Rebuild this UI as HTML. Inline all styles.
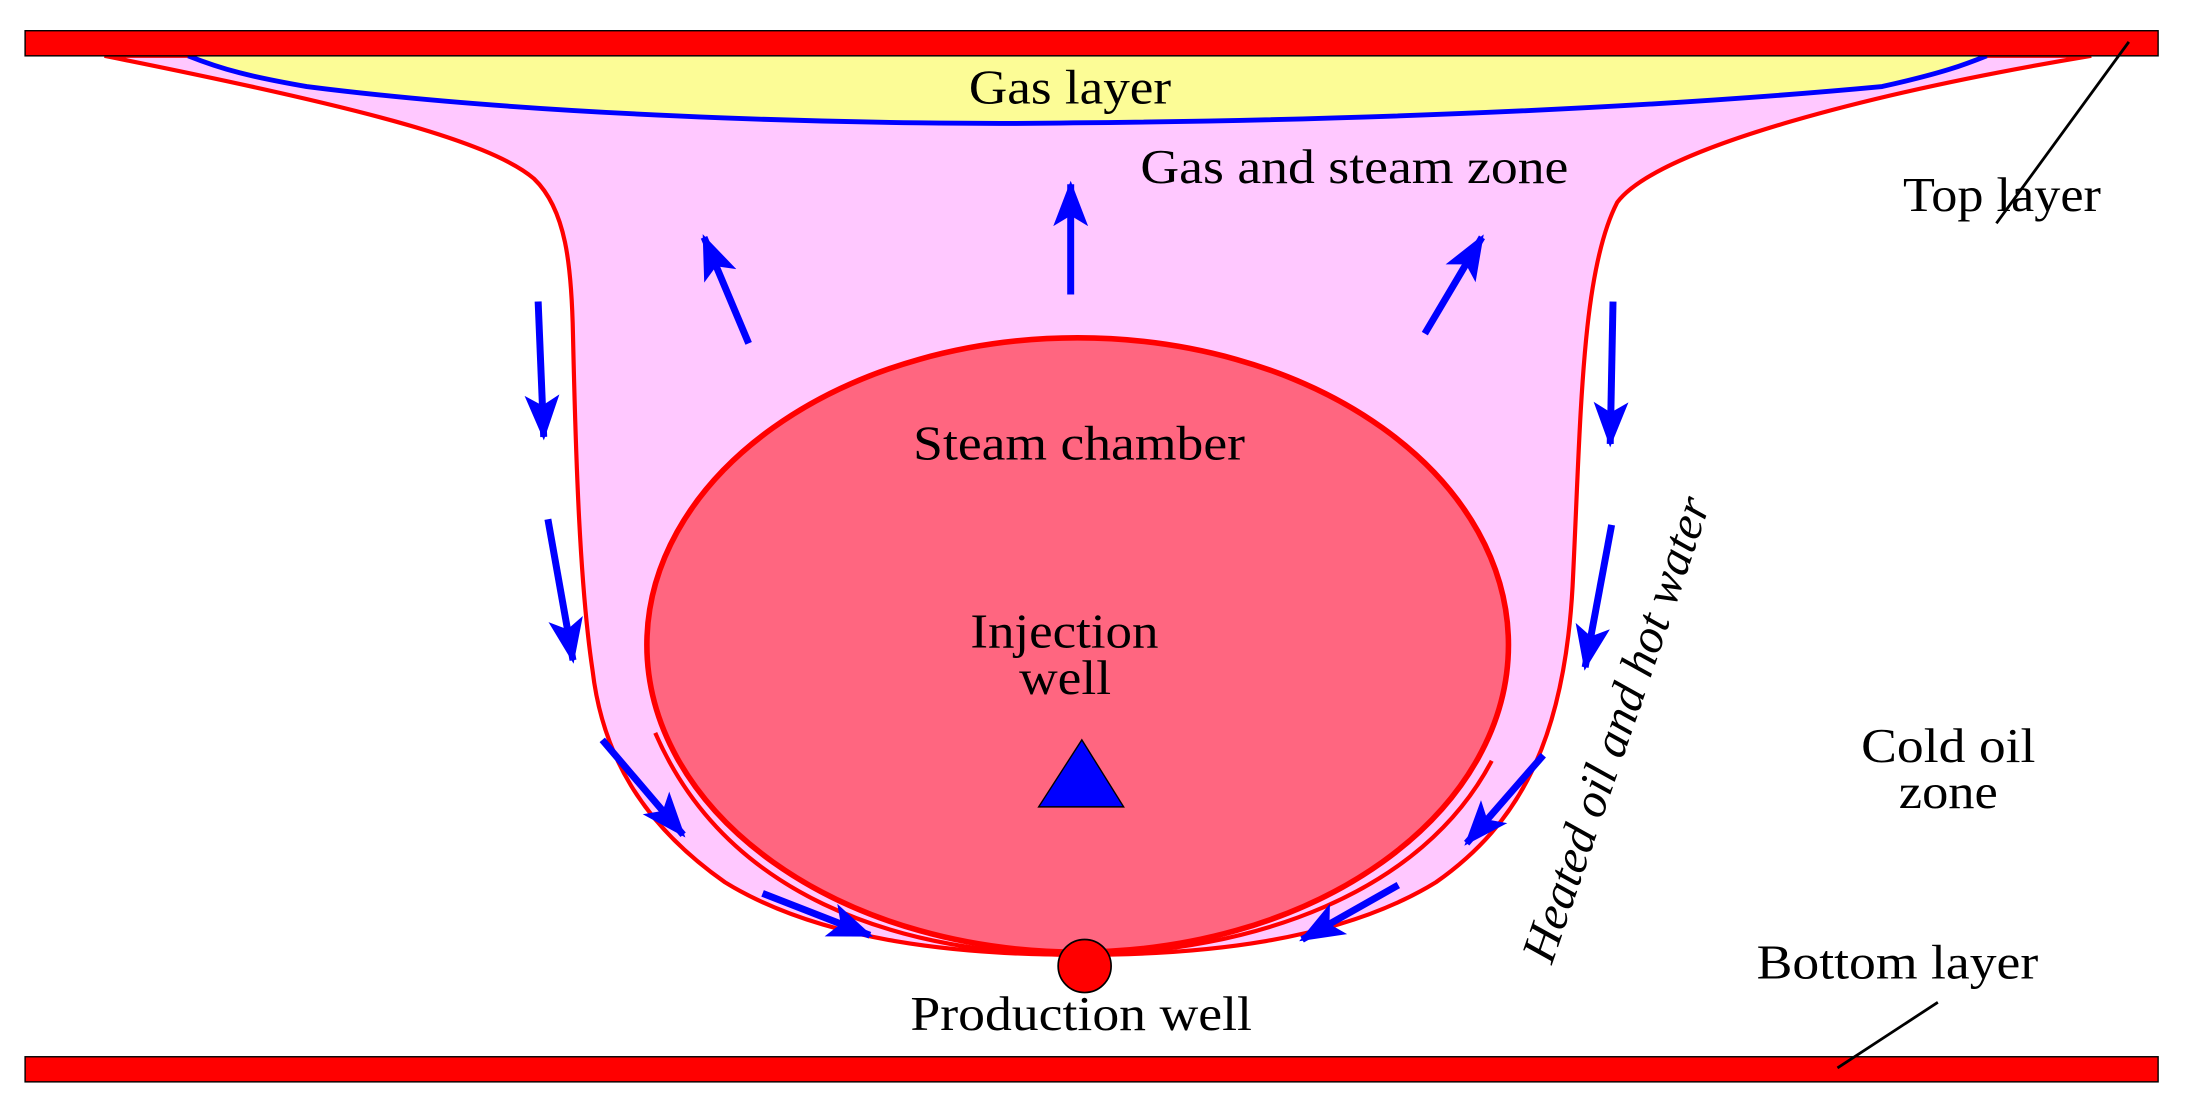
<!DOCTYPE html>
<html><head><meta charset="utf-8"><style>html,body{margin:0;padding:0;background:#fff}svg{display:block}</style></head>
<body>
<svg width="2186" height="1107" viewBox="0 0 1568 793" preserveAspectRatio="none" xmlns="http://www.w3.org/2000/svg">
<defs>
<marker id="ah" markerWidth="8" markerHeight="8" refX="6" refY="4" orient="auto" markerUnits="strokeWidth">
<path d="M0,1.5 L6.5,4 L0,6.5 L1.5,4 Z" fill="#0000ff"/>
</marker>
</defs>
<rect width="1568" height="793" fill="#fff"/>
<!-- pink zone -->
<path d="M75,40 C 250,75 350,100 383,128 C 406,150 410,190 411,240 C 413,330 416,420 425,480 C 432,540 460,590 520,632 C 590,675 690,684 775,684 C 860,684 960,675 1030,632 C 1090,590 1122,530 1128,420 C 1134,300 1134,195 1160,145 C 1190,105 1350,65 1500,40 Z" fill="#ffc8ff" stroke="#ff0000" stroke-width="3"/>
<!-- gas layer -->
<path d="M135,40 C 160,50 180,55 220,62 C 400,85 650,90 770,88 C 1000,86 1200,76 1350,62 C 1395,52 1410,46 1425,40 Z" fill="#fcfc96"/>
<path d="M135,40 C 160,50 180,55 220,62 C 400,85 650,90 770,88 C 1000,86 1200,76 1350,62 C 1395,52 1410,46 1425,40" fill="none" stroke="#0000ff" stroke-width="3.5"/>
<!-- bars -->
<rect x="18" y="22" width="1530" height="18" fill="#ff0000" stroke="#000" stroke-width="1"/>
<rect x="18" y="757" width="1530" height="18" fill="#ff0000" stroke="#000" stroke-width="1"/>
<!-- ellipse -->
<ellipse cx="773" cy="462" rx="309" ry="220" fill="#ff6680" stroke="#ff0000" stroke-width="4"/>
<path d="M470,525 C 520,640 640,684 775,684 C 900,682 1020,640 1070,545" fill="none" stroke="#ff0000" stroke-width="3"/>
<!-- triangle -->
<path d="M776,530 L806,578 L745,578 Z" fill="#0000ff" stroke="#000" stroke-width="1"/>
<!-- production well -->
<ellipse cx="778" cy="692" rx="19" ry="19" fill="#ff0000" stroke="#000" stroke-width="1.2"/>
<!-- arrows -->
<g stroke="#0000ff" stroke-width="5" fill="none" marker-end="url(#ah)">
<line x1="537" y1="246" x2="505" y2="170"/>
<line x1="768" y1="211" x2="768" y2="132"/>
<line x1="1022" y1="239" x2="1063" y2="170"/>
<line x1="386" y1="216" x2="390" y2="313"/>
<line x1="393" y1="372" x2="411" y2="473"/>
<line x1="432" y1="530" x2="490" y2="598"/>
<line x1="547" y1="640" x2="624" y2="670"/>
<line x1="1157" y1="216" x2="1155" y2="318"/>
<line x1="1156" y1="376" x2="1137" y2="478"/>
<line x1="1107" y1="541" x2="1052" y2="604"/>
<line x1="1003" y1="634" x2="934" y2="673"/>
</g>
<!-- leader lines -->
<line x1="1527" y1="30" x2="1432" y2="160" stroke="#000" stroke-width="2"/>
<line x1="1390" y1="718" x2="1318" y2="765" stroke="#000" stroke-width="2"/>
<!-- text -->
<g font-family="'Liberation Serif', serif" font-size="35" fill="#000">
<text x="695" y="74" textLength="145" lengthAdjust="spacingAndGlyphs">Gas layer</text>
<text x="818" y="131" textLength="307" lengthAdjust="spacingAndGlyphs">Gas and steam zone</text>
<text x="1365" y="151" textLength="142" lengthAdjust="spacingAndGlyphs">Top layer</text>
<text x="655" y="329" textLength="238" lengthAdjust="spacingAndGlyphs">Steam chamber</text>
<text x="696" y="464" textLength="135" lengthAdjust="spacingAndGlyphs">Injection</text>
<text x="731" y="497" textLength="66" lengthAdjust="spacingAndGlyphs">well</text>
<text x="1335" y="546" textLength="125" lengthAdjust="spacingAndGlyphs">Cold oil</text>
<text x="1362" y="579" textLength="71" lengthAdjust="spacingAndGlyphs">zone</text>
<text x="1260" y="701" textLength="202" lengthAdjust="spacingAndGlyphs">Bottom layer</text>
<text x="653" y="738" textLength="245" lengthAdjust="spacingAndGlyphs">Production well</text>
<text x="0" y="0" font-style="italic" text-anchor="middle" textLength="350" lengthAdjust="spacingAndGlyphs" transform="translate(1170,526) rotate(-71)">Heated oil and hot water</text>
</g>
</svg>
</body></html>
